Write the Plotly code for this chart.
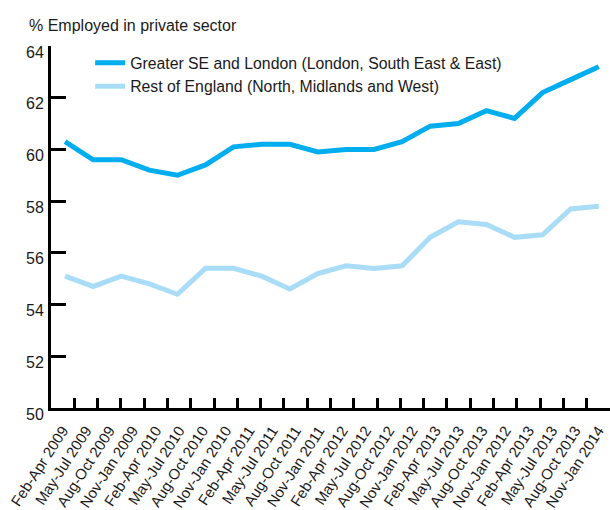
import plotly.graph_objects as go

period_labels = [
    "Feb-Apr 2009", "May-Jul 2009", "Aug-Oct 2009", "Nov-Jan 2009",
    "Feb-Apr 2010", "May-Jul 2010", "Aug-Oct 2010", "Nov-Jan 2010",
    "Feb-Apr 2011", "May-Jul 2011", "Aug-Oct 2011", "Nov-Jan 2011",
    "Feb-Apr 2012", "May-Jul 2012", "Aug-Oct 2012", "Nov-Jan 2012",
    "Feb-Apr 2013", "May-Jul 2013", "Aug-Oct 2013", "Nov-Jan 2012",
    "Feb-Apr 2013", "May-Jul 2013", "Aug-Oct 2013", "Nov-Jan 2014",
]
# unique keys for the category axis (labels repeat in the original)
label_keys = [f"{i}|{t}" for i, t in enumerate(period_labels)]

greater_se = [60.3, 59.6, 59.6, 59.2, 59.0, 59.4, 60.1, 60.2, 60.2, 59.9,
              60.0, 60.0, 60.3, 60.9, 61.0, 61.5, 61.2, 62.2, 62.7, 63.2]
rest_england = [55.1, 54.7, 55.1, 54.8, 54.4, 55.4, 55.4, 55.1, 54.6, 55.2,
                55.5, 55.4, 55.5, 56.6, 57.2, 57.1, 56.6, 56.7, 57.7, 57.8]
point_index = list(range(len(greater_se)))

y_ticks = [50, 52, 54, 56, 58, 60, 62, 64]

name_se = "Greater SE and London (London, South East & East)"
name_rest = "Rest of England (North, Midlands and West)"
color_se = "#00AEEF"
color_rest = "#A9DCF6"

FONT = "Liberation Sans, Arial, Helvetica, sans-serif"

fig = go.Figure()

# invisible trace establishing the category axis
fig.add_trace(go.Scatter(
    x=label_keys, y=[None] * len(label_keys), xaxis="x", yaxis="y",
    mode="lines", showlegend=False, hoverinfo="skip",
))

fig.add_trace(go.Scatter(
    x=point_index, y=greater_se, xaxis="x2", yaxis="y",
    mode="lines", name=name_se,
    line=dict(color=color_se, width=5),
))
fig.add_trace(go.Scatter(
    x=point_index, y=rest_england, xaxis="x2", yaxis="y",
    mode="lines", name=name_rest,
    line=dict(color=color_rest, width=5),
))

fig.update_layout(
    width=610, height=510,
    margin=dict(l=51, r=0, t=46, b=102),
    paper_bgcolor="white", plot_bgcolor="white",
    font=dict(family=FONT, size=16, color="#1a1a1a"),
    showlegend=True,
    legend=dict(
        x=0.07, y=1.0, xanchor="left", yanchor="top",
        bgcolor="rgba(0,0,0,0)", font=dict(size=15.8, color="#1a1a1a"),
        itemwidth=30, tracegroupgap=0,
    ),
    xaxis=dict(
        type="category", categoryorder="array", categoryarray=label_keys,
        range=[-0.5, len(label_keys) - 0.5],
        tickmode="array", tickvals=label_keys, ticktext=period_labels,
        tickson="boundaries", ticks="inside", ticklen=10, tickwidth=2.5,
        tickcolor="#000", tickangle=-57,
        tickfont=dict(family=FONT, size=15, color="#1a1a1a"),
        showline=True, linecolor="#000", linewidth=3,
        showgrid=False, zeroline=False, fixedrange=True,
        ticklabelstandoff=5, automargin=False,
    ),
    xaxis2=dict(
        overlaying="x", anchor="y", range=[-0.5, 19.4],
        visible=False, showgrid=False, zeroline=False,
    ),
    yaxis=dict(
        range=[50, 64], tickvals=y_ticks,
        ticks="inside", ticklen=15, tickwidth=2.5, tickcolor="#000",
        showline=True, linecolor="#000", linewidth=3,
        showgrid=False, zeroline=False, automargin=False,
        tickfont=dict(family=FONT, size=16, color="#1a1a1a"),
        ticklabelshift=6, ticklabelstandoff=1,
    ),
    annotations=[dict(
        text="% Employed in private sector", xref="paper", yref="paper",
        x=-51 / 559, y=1 + 22 / 362, xanchor="left", yanchor="middle",
        xshift=27, yshift=-1, showarrow=False, font=dict(size=16, color="#1a1a1a"),
    )],
)

fig.write_html("out.html")
